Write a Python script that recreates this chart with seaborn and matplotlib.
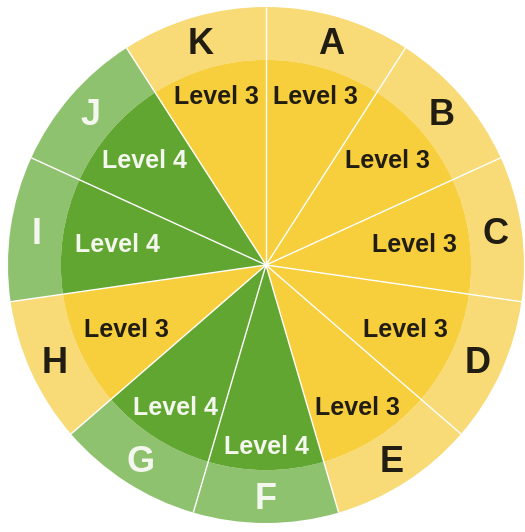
import numpy as np
import matplotlib
matplotlib.use("Agg")
import matplotlib.pyplot as plt
import seaborn as sns

# Data
letters = ["A", "B", "C", "D", "E", "F", "G", "H", "I", "J", "K"]
levels = [3, 3, 3, 3, 3, 4, 4, 3, 4, 4, 3]
shares = [1] * len(letters)

sns.set_theme(style="white")
plt.rcParams["font.family"] = ["Liberation Sans", "DejaVu Sans"]

inner_col = {3: "#f7ce3c", 4: "#62a632"}
outer_col = {3: "#f8db77", 4: "#8fc26e"}
text_col = {3: "#211d12", 4: "#f3f7ee"}

fig = plt.figure(figsize=(5.25, 5.32), dpi=100)
ax = fig.add_axes([8 / 525, 9 / 532, 516 / 525, 516 / 532])

R_in = 0.795
ax.pie(shares, radius=1.0, colors=[outer_col[l] for l in levels],
       startangle=90, counterclock=False,
       wedgeprops=dict(width=1.0 - R_in, linewidth=0))
ax.pie(shares, radius=R_in, colors=[inner_col[l] for l in levels],
       startangle=90, counterclock=False,
       wedgeprops=dict(linewidth=0))

# white separators between slices
n = len(letters)
for i in range(n):
    a = np.deg2rad(90 - i * 360 / n)
    ax.plot([0, np.cos(a)], [0, np.sin(a)], color="white", lw=1.0,
            solid_capstyle="butt")

for i, (let, lev) in enumerate(zip(letters, levels)):
    theta = np.deg2rad(90 - (i + 0.5) * 360 / n)
    # wide labels sit closer to the centre near the horizontal
    r_lab = 0.70 - 0.12 * abs(np.cos(theta)) ** 1.5
    ax.text(r_lab * np.cos(theta), r_lab * np.sin(theta) - 0.005, f"Level {lev}",
            ha="center", va="center", fontsize=18, fontweight="bold",
            color=text_col[lev])
    ax.text(0.9 * np.cos(theta), 0.9 * np.sin(theta) - 0.008, let,
            ha="center", va="center", fontsize=26, fontweight="bold",
            color=text_col[lev])

ax.set_xlim(-1, 1)
ax.set_ylim(-1, 1)
ax.axis("off")

fig.savefig("out.png", dpi=100)
